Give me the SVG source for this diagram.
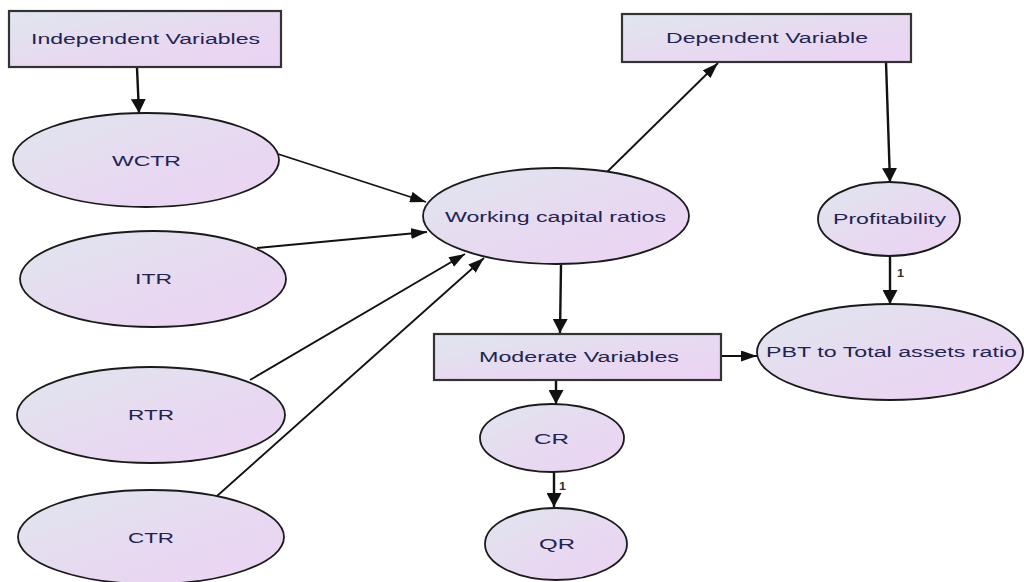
<svg xmlns="http://www.w3.org/2000/svg" width="1024" height="582" viewBox="0 0 1024 582">
<defs>
<linearGradient id="fill" x1="0" y1="0" x2="1" y2="1">
<stop offset="0" stop-color="#e0e6ee"/>
<stop offset="0.6" stop-color="#e8d8f1"/>
<stop offset="1" stop-color="#ecd3f4"/>
</linearGradient>
<marker id="arr" markerUnits="userSpaceOnUse" markerWidth="17" markerHeight="11" refX="16" refY="5.5" orient="auto">
<path d="M0,0 L16,5.5 L0,11 z" fill="#111"/>
</marker>
<marker id="arrv" markerUnits="userSpaceOnUse" markerWidth="15" markerHeight="15" refX="14" refY="7.5" orient="auto">
<path d="M0,0 L14,7.5 L0,15 z" fill="#111"/>
</marker>
<style>
.box{fill:url(#fill);stroke:#333;stroke-width:2.2}
.ell{fill:url(#fill);stroke:#1a1a1a;stroke-width:1.8}
.lbl{font-family:"Liberation Sans",Arial,sans-serif;font-size:14px;fill:#1f2450}
.num{font-family:"Liberation Sans",Arial,sans-serif;font-size:10px;font-weight:bold;fill:#3a3020}
.con{stroke:#111;stroke-width:1.8;fill:none;marker-end:url(#arr)}
.conv{stroke:#111;stroke-width:2.4;fill:none;marker-end:url(#arrv)}
</style>
</defs>
<rect width="1024" height="582" fill="#ffffff"/>

<g id="connectors">
<line class="conv" x1="137" y1="68" x2="139" y2="113"/>
<line class="con" x1="278" y1="154" x2="426" y2="202"/>
<line class="con" x1="257" y1="248" x2="427" y2="232"/>
<line class="con" x1="250" y1="380" x2="465" y2="254"/>
<line class="con" x1="217" y1="496" x2="484" y2="258"/>
<line class="con" x1="607" y1="172" x2="718" y2="63"/>
<line class="conv" x1="886" y1="62" x2="890" y2="182"/>
<line class="conv" x1="890" y1="256" x2="890" y2="304"/>
<line class="conv" x1="561" y1="265" x2="560" y2="333"/>
<line class="con" x1="722" y1="356" x2="757" y2="356"/>
<line class="conv" x1="556" y1="381" x2="556" y2="404"/>
<line class="conv" x1="554" y1="472" x2="554" y2="507"/>
<text class="num" x="897" y="277" textLength="7" lengthAdjust="spacingAndGlyphs">1</text>
<text class="num" x="559" y="490" textLength="7" lengthAdjust="spacingAndGlyphs">1</text>
</g>

<g id="independent">
<rect class="box" x="9" y="11" width="272" height="56"/>
<text class="lbl" x="31" y="44" textLength="229" lengthAdjust="spacingAndGlyphs">Independent Variables</text>
</g>
<g id="dependent">
<rect class="box" x="622" y="14" width="289" height="48"/>
<text class="lbl" x="666" y="43" textLength="202" lengthAdjust="spacingAndGlyphs">Dependent Variable</text>
</g>
<g id="wctr">
<ellipse class="ell" cx="146" cy="160" rx="133" ry="47"/>
<text class="lbl" x="112" y="166" textLength="69" lengthAdjust="spacingAndGlyphs">WCTR</text>
</g>
<g id="itr">
<ellipse class="ell" cx="153" cy="279" rx="133" ry="48"/>
<text class="lbl" x="135" y="284" textLength="37" lengthAdjust="spacingAndGlyphs">ITR</text>
</g>
<g id="rtr">
<ellipse class="ell" cx="151" cy="415" rx="134" ry="48"/>
<text class="lbl" x="128" y="420" textLength="46" lengthAdjust="spacingAndGlyphs">RTR</text>
</g>
<g id="ctr">
<ellipse class="ell" cx="151" cy="537" rx="133" ry="47"/>
<text class="lbl" x="128" y="543" textLength="46" lengthAdjust="spacingAndGlyphs">CTR</text>
</g>
<g id="wcr">
<ellipse class="ell" cx="556" cy="216" rx="133" ry="48"/>
<text class="lbl" x="445" y="222" textLength="221" lengthAdjust="spacingAndGlyphs">Working capital ratios</text>
</g>
<g id="profitability">
<ellipse class="ell" cx="889" cy="219" rx="71" ry="37"/>
<text class="lbl" x="833" y="224" textLength="113" lengthAdjust="spacingAndGlyphs">Profitability</text>
</g>
<g id="pbt">
<ellipse class="ell" cx="890" cy="352" rx="133" ry="48"/>
<text class="lbl" x="766" y="357" textLength="251" lengthAdjust="spacingAndGlyphs">PBT to Total assets ratio</text>
</g>
<g id="moderate">
<rect class="box" x="434" y="334" width="287" height="46"/>
<text class="lbl" x="479" y="362" textLength="200" lengthAdjust="spacingAndGlyphs">Moderate Variables</text>
</g>
<g id="cr">
<ellipse class="ell" cx="552" cy="438" rx="72" ry="34"/>
<text class="lbl" x="534" y="444" textLength="35" lengthAdjust="spacingAndGlyphs">CR</text>
</g>
<g id="qr">
<ellipse class="ell" cx="556" cy="544" rx="71" ry="36"/>
<text class="lbl" x="539" y="549" textLength="36" lengthAdjust="spacingAndGlyphs">QR</text>
</g>
</svg>
